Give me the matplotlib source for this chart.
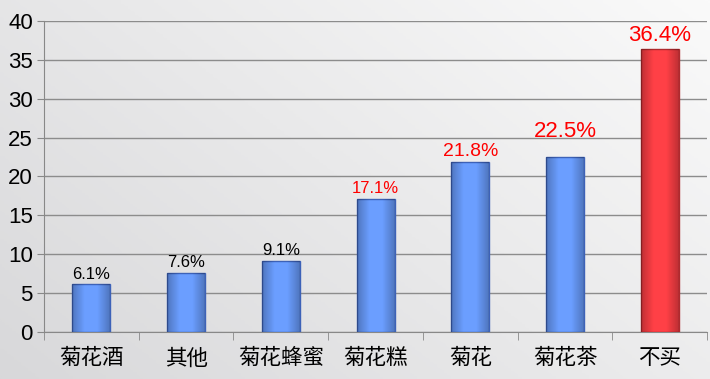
import numpy as np
import matplotlib.pyplot as plt
from matplotlib.colors import LinearSegmentedColormap

plt.rcParams['font.family'] = ['Liberation Sans', 'Noto Sans CJK SC', 'DejaVu Sans']

categories = ["菊花酒", "其他", "菊花蜂蜜", "菊花糕", "菊花", "菊花茶", "不买"]
values = [6.1, 7.6, 9.1, 17.1, 21.8, 22.5, 36.4]
labels = ["6.1%", "7.6%", "9.1%", "17.1%", "21.8%", "22.5%", "36.4%"]
label_colors = ["black", "black", "black", "red", "red", "red", "red"]
label_sizes = [12, 12, 12, 12, 14, 16, 16]
label_offsets = [2, 2, 2, 2, 2, 11, 2]
bar_colors = ["#6B9EFF"] * 6 + ["#FF4046"]
edge_colors = ["#3D62B8"] * 6 + ["#B02A2E"]

fig = plt.figure(figsize=(7.1, 3.79), dpi=100)

# background gradient, gray at bottom-left to white at top-right
bg = fig.add_axes([0, 0, 1, 1], zorder=-10)
gx, gy = np.meshgrid(np.linspace(0, 1, 200), np.linspace(0, 1, 200))
grad = 0.6 * gx + 0.4 * (1 - gy)
bg_cmap = LinearSegmentedColormap.from_list("bg", ["#D8D8DA", "#FAFAFA"])
bg.imshow(grad, cmap=bg_cmap, aspect="auto", extent=[0, 1, 0, 1], origin="upper")
bg.axis("off")

ax = fig.add_axes([0.062, 0.125, 0.934, 0.819])
ax.patch.set_alpha(0)
x = np.arange(len(categories))
bars = ax.bar(x, values, width=0.4, color=bar_colors, edgecolor=edge_colors,
              linewidth=1.0, zorder=3)

# darker sides on each bar
side_cmap = LinearSegmentedColormap.from_list(
    "s", [(0, 0, 0, 0.25), (0, 0, 0, 0.0), (0, 0, 0, 0.0), (0, 0, 0, 0.25)])
for b in bars:
    shade = np.linspace(0, 1, 50).reshape(1, -1)
    im = ax.imshow(shade, cmap=side_cmap,
                   extent=[b.get_x(), b.get_x() + b.get_width(), 0, b.get_height()],
                   aspect="auto", zorder=4)
    im.set_clip_path(b)

for xi, v, t, c, s, o in zip(x, values, labels, label_colors, label_sizes, label_offsets):
    ax.annotate(t, (xi, v), xytext=(0, o), textcoords="offset points",
                ha="center", va="bottom", color=c, fontsize=s, zorder=5)

ax.set_xlim(-0.5, len(categories) - 0.5)
ax.set_ylim(0, 40)
ax.set_yticks(np.arange(0, 41, 5))
ax.set_xticks(x)
ax.set_xticklabels(categories, fontsize=15.5)
ax.set_xticks(np.arange(-0.5, len(categories), 1), minor=True)
ax.tick_params(axis="x", which="major", length=0, pad=12)
ax.tick_params(axis="x", which="minor", length=6, color="#888888")
ax.tick_params(axis="y", length=5, color="#888888", labelsize=16, pad=3)
ax.grid(axis="y", color="#8C8C8C", linewidth=1.0, zorder=0)
for side in ["top", "right"]:
    ax.spines[side].set_visible(False)
for side in ["left", "bottom"]:
    ax.spines[side].set_color("#888888")

fig.savefig("out.png", dpi=100)
